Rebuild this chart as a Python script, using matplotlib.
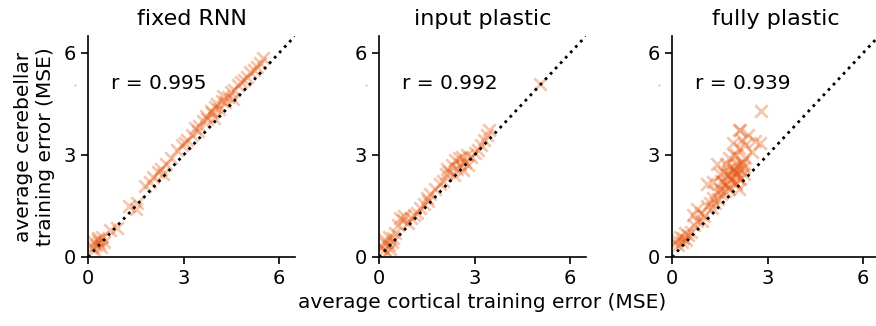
import numpy as np
import matplotlib.pyplot as plt

titles = ['fixed RNN', 'input plastic', 'fully plastic']
r_values = ['r = 0.995', 'r = 0.992', 'r = 0.939']

# cortical (x) vs cerebellar (y) training error
fixed_x = [0.15, 0.2, 0.25, 0.3, 0.35, 0.4, 0.2, 0.3, 0.45, 0.5, 0.7, 0.9, 1.3, 1.5,
           1.55, 1.8, 1.95, 2.05, 2.2, 2.3, 2.35, 2.45, 2.8, 2.95, 3.05, 3.1, 3.25, 3.35,
           3.5, 3.6, 3.7, 3.75, 3.85, 3.9, 4.0, 4.05, 4.1, 4.2, 4.25, 4.3, 4.4, 4.5,
           4.6, 4.7, 4.8, 4.9, 5.0, 5.1, 5.2, 5.3, 5.4, 5.5, 3.45, 3.95, 4.55, 2.6]
fixed_y = [0.3, 0.45, 0.35, 0.55, 0.4, 0.3, 0.2, 0.5, 0.6, 0.45, 0.8, 0.85, 1.5, 1.4,
           1.6, 2.1, 2.2, 2.35, 2.5, 2.6, 2.45, 2.75, 3.15, 3.3, 3.35, 3.45, 3.6, 3.8,
           3.85, 4.0, 4.15, 4.05, 4.3, 4.25, 4.4, 4.5, 4.35, 4.6, 4.75, 4.55, 4.7, 4.85,
           4.9, 5.05, 5.15, 5.2, 5.3, 5.45, 5.5, 5.6, 5.7, 5.85, 3.7, 4.1, 4.65, 2.9]

input_x = [0.1, 0.15, 0.2, 0.25, 0.3, 0.35, 0.4, 0.2, 0.3, 0.5, 0.6, 0.65, 0.75, 0.8,
           0.9, 1.0, 1.1, 1.3, 1.4, 1.5, 1.55, 1.6, 1.75, 1.9, 2.0, 2.1, 2.15, 2.2,
           2.3, 2.4, 2.45, 2.5, 2.55, 2.6, 2.7, 2.75, 2.8, 2.9, 3.0, 3.1, 3.2, 3.3,
           3.4, 3.45, 2.35, 2.65, 5.05, 1.2, 0.45]
input_y = [0.3, 0.2, 0.4, 0.15, 0.35, 0.25, 0.45, 0.5, 0.6, 0.7, 0.95, 1.15, 1.1, 1.2,
           1.0, 1.15, 1.25, 1.45, 1.55, 1.75, 1.65, 1.85, 2.0, 2.15, 2.25, 2.45, 2.6,
           2.5, 2.7, 2.85, 2.6, 2.9, 2.75, 2.95, 2.8, 3.0, 2.7, 2.95, 3.05, 3.15, 3.3,
           3.45, 3.6, 3.75, 2.4, 2.55, 5.1, 1.3, 0.55]

full_x = [0.1, 0.15, 0.2, 0.25, 0.3, 0.35, 0.4, 0.45, 0.5, 0.6, 0.7, 0.8, 0.9, 1.0,
          1.1, 1.2, 1.25, 1.3, 1.35, 1.4, 1.45, 1.5, 1.55, 1.6, 1.65, 1.7, 1.75, 1.8,
          1.85, 1.9, 1.95, 2.0, 2.05, 2.1, 2.15, 2.2, 2.25, 1.6, 1.7, 1.8, 1.9, 2.0,
          2.1, 2.2, 2.3, 2.4, 2.5, 2.6, 2.1, 1.95, 1.5, 1.3, 2.8, 0.65, 0.95,
          2.13, 2.75, 1.9, 1.4, 1.1, 0.78, 1.7, 1.85, 2.0, 2.05, 2.15, 2.25, 1.95,
          2.3, 1.75, 1.55, 2.1, 2.2]
full_y = [0.4, 0.5, 0.35, 0.6, 0.45, 0.55, 0.7, 0.5, 0.65, 0.75, 0.95, 1.05, 1.3, 1.2,
          1.5, 1.6, 1.45, 1.75, 1.6, 1.9, 1.7, 2.0, 1.85, 2.2, 1.95, 2.1, 2.4, 2.0,
          2.3, 2.55, 2.2, 2.5, 2.35, 2.7, 2.6, 2.8, 2.45, 2.5, 2.75, 2.9, 2.65, 3.0,
          3.2, 3.45, 3.3, 3.6, 3.1, 3.4, 3.75, 3.0, 2.45, 2.2, 4.3, 1.25, 1.05,
          3.75, 3.35, 3.35, 2.75, 2.15, 1.4, 2.15, 2.35, 2.15, 2.45, 2.3, 2.65, 2.6,
          2.9, 2.55, 2.25, 2.0, 2.75]

xs = [fixed_x, input_x, full_x]
ys = [fixed_y, input_y, full_y]

orange = '#e6550d'

fig = plt.figure(figsize=(8.76, 3.26), dpi=100)
lefts = [88, 379, 672]
axes = [fig.add_axes([l / 876, 69 / 326, 207 / 876, 221 / 326]) for l in lefts]

for i, ax in enumerate(axes):
    ax.scatter(xs[i], ys[i], marker='x', s=80, color=orange, alpha=0.33, linewidths=2)
    ax.plot([0, 6.5], [0, 6.5], ':', color='black', lw=2)
    # stray marker left of the axis in the original
    ax.plot([-0.42], [5.05], marker='s', ms=1.5, color=orange, alpha=0.4,
            clip_on=False, ls='none', mec='none')
    ax.text(0.72, 5.1, r_values[i], fontsize=14.5, va='center')
    ax.set_title(titles[i], fontsize=16, pad=8)
    ax.set_xlim(0, 6.5)
    ax.set_ylim(0, 6.5)
    ax.set_xticks([0, 3, 6])
    ax.set_yticks([0, 3, 6])
    ax.tick_params(labelsize=14, length=5, width=1.2)
    ax.spines['top'].set_visible(False)
    ax.spines['right'].set_visible(False)
    ax.spines['left'].set_linewidth(1.2)
    ax.spines['bottom'].set_linewidth(1.2)

axes[0].set_ylabel('average cerebellar\ntraining error (MSE)', fontsize=14.5, labelpad=6)
axes[1].set_xlabel('average cortical training error (MSE)', fontsize=14.5)

plt.savefig('out.png')
